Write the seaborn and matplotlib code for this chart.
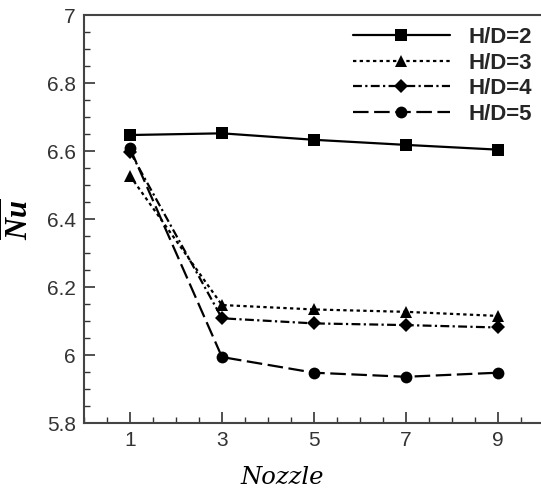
import matplotlib
matplotlib.use("Agg")
import matplotlib.pyplot as plt
import seaborn as sns
import pandas as pd
from matplotlib.ticker import MultipleLocator
from matplotlib.lines import Line2D

nozzle = [1, 3, 5, 7, 9]
hd2 = [6.647, 6.652, 6.633, 6.618, 6.604]
hd3 = [6.527, 6.147, 6.134, 6.127, 6.115]
hd4 = [6.598, 6.108, 6.093, 6.088, 6.081]
hd5 = [6.608, 5.994, 5.948, 5.936, 5.948]
labels = ["H/D=2", "H/D=3", "H/D=4", "H/D=5"]

sns.set_theme(style="ticks")
plt.rcParams["font.family"] = ["Liberation Sans", "DejaVu Sans"]
plt.rcParams["mathtext.fontset"] = "custom"
plt.rcParams["mathtext.it"] = "Liberation Serif:italic:bold"
plt.rcParams["mathtext.rm"] = "Liberation Serif:bold"

rows = []
for lab, vals in zip(labels, [hd2, hd3, hd4, hd5]):
    for x, y in zip(nozzle, vals):
        rows.append({"Nozzle": x, "Nu": y, "series": lab})
df = pd.DataFrame(rows)

markers = {"H/D=2": "s", "H/D=3": "^", "H/D=4": "D", "H/D=5": "o"}
msizes = {"H/D=2": 8, "H/D=3": 8, "H/D=4": 7, "H/D=5": 8.5}
dashes = {"H/D=2": None, "H/D=3": (1.5, 1.5), "H/D=4": (4, 1.5, 1, 1.5), "H/D=5": (7, 2.5)}

fig = plt.figure(figsize=(5.41, 4.92), dpi=100)
ax = fig.add_axes([0.1553, 0.1402, 0.850, 0.8293])

handles = []
for lab in labels:
    sub = df[df.series == lab]
    kw = {}
    if dashes[lab] is not None:
        kw["dashes"] = dashes[lab]
    sns.lineplot(data=sub, x="Nozzle", y="Nu", ax=ax, color="black", lw=1.6,
                 marker=markers[lab], markersize=msizes[lab], markeredgewidth=0,
                 legend=False, **kw)
    ls = "-" if dashes[lab] is None else (0, dashes[lab])
    handles.append(Line2D([], [], color="black", lw=1.6, linestyle=ls,
                          marker=markers[lab], markersize=msizes[lab], markeredgewidth=0, label=lab))

ax.set_xlim(0, 10)
ax.set_ylim(5.8, 7.0)
ax.set_xticks(nozzle)
ax.xaxis.set_minor_locator(MultipleLocator(0.5))
ax.yaxis.set_minor_locator(MultipleLocator(0.05))
ax.set_yticks([5.8, 6.0, 6.2, 6.4, 6.6, 6.8, 7.0])
ax.set_yticklabels(["5.8", "6", "6.2", "6.4", "6.6", "6.8", "7"])

ax.tick_params(which="both", direction="in", colors="#333333", labelcolor="#333333")
ax.tick_params(which="major", length=8, width=1.2, labelsize=15, pad=6)
ax.tick_params(which="minor", length=4, width=1)
for s in ax.spines.values():
    s.set_color("#444444")
    s.set_linewidth(1.5)

ax.set_xlabel("Nozzle", fontfamily="DejaVu Serif", fontstyle="italic",
              fontsize=17.5, color="black")
ax.xaxis.set_label_coords(0.43, -0.105)
ax.set_ylabel(r"$\overline{Nu}$", fontsize=22, labelpad=8, color="black")

ax.legend(handles=handles, loc="upper right", bbox_to_anchor=(1.0, 1.0), frameon=False,
          handlelength=4.4, handletextpad=0.8, labelspacing=0.2, borderaxespad=0.15,
          prop={"family": "Liberation Sans", "weight": "bold", "size": 16})

fig.savefig("out.png", dpi=100)
